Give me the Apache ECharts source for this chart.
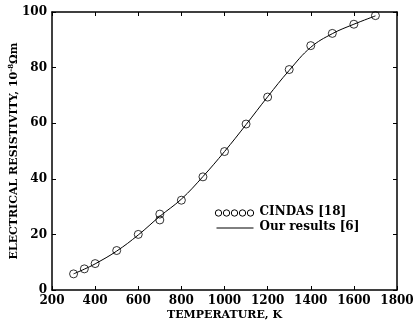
<!DOCTYPE html>
<html>
<head>
<meta charset="utf-8">
<script src="https://cdn.jsdelivr.net/npm/echarts@6/dist/echarts.min.js"></script>
<style>
  html, body { margin: 0; padding: 0; background: #fff; }
  #chart { width: 414px; height: 323px; }
</style>
</head>
<body>
<div id="chart"></div>
<script>
// CINDAS [18] measured points
const cindasT = [300, 350, 400, 500, 600, 700, 700, 800, 900, 1000, 1100, 1200, 1300, 1400, 1500, 1600, 1700];
const cindasRho = [5.8, 7.6, 9.5, 14.2, 20.0, 27.3, 25.2, 32.3, 40.7, 49.8, 59.7, 69.4, 79.3, 87.9, 92.3, 95.6, 98.7];

// our results [6] (curve)
const curveT = [300, 350, 400, 500, 600, 700, 800, 900, 1000, 1100, 1200, 1300, 1400, 1500, 1600, 1700];
const curveRho = [5.8, 7.5, 9.4, 14.0, 19.8, 26.5, 32.7, 40.8, 49.8, 59.5, 69.5, 79.0, 87.3, 92.2, 95.6, 98.6];

const FONT = 'DejaVu Serif';
const chart = echarts.init(document.getElementById('chart'));

const tickStyle = { show: true, inside: true, length: 4, lineStyle: { color: '#000', width: 1 } };
const labelStyle = { fontFamily: FONT, fontSize: 12, fontWeight: 'bold', color: '#000' };

chart.setOption({
  animation: false,
  grid: { left: 52, right: 17, top: 12, bottom: 33, outerBoundsMode: 'none', containLabel: false },
  xAxis: [{
    type: 'value', min: 200, max: 1800, interval: 200,
    name: 'TEMPERATURE, K', nameLocation: 'middle', nameGap: 20, nameMoveOverlap: false,
    nameTextStyle: { fontFamily: FONT, fontSize: 11, fontWeight: 'bold', color: '#000' },
    axisLine: { show: true, lineStyle: { color: '#000', width: 1.5 } },
    axisTick: tickStyle,
    axisLabel: Object.assign({ margin: 5, formatter: v => String(v) }, labelStyle),
    splitLine: { show: false }
  }, {
    type: 'value', position: 'top', min: 200, max: 1800, interval: 200,
    axisLine: { show: true, onZero: false, lineStyle: { color: '#000', width: 1.5 } },
    axisTick: tickStyle, axisLabel: { show: false }, splitLine: { show: false }
  }],
  yAxis: [{
    type: 'value', min: 0, max: 100, interval: 20,
    name: 'ELECTRICAL RESISTIVITY, 10{sup|-8}Ωm', nameLocation: 'middle', nameGap: 31, nameMoveOverlap: false,
    nameTextStyle: {
      fontFamily: FONT, fontSize: 11, fontWeight: 'bold', color: '#000',
      rich: { sup: { fontFamily: FONT, fontSize: 7, fontWeight: 'bold', color: '#000', verticalAlign: 'top', padding: [0, 0, 6, 0] } }
    },
    axisLine: { show: true, lineStyle: { color: '#000', width: 1.5 } },
    axisTick: tickStyle,
    axisLabel: Object.assign({ margin: 5 }, labelStyle),
    splitLine: { show: false }
  }, {
    type: 'value', position: 'right', min: 0, max: 100, interval: 20,
    axisLine: { show: true, onZero: false, lineStyle: { color: '#000', width: 1.5 } },
    axisTick: tickStyle, axisLabel: { show: false }, splitLine: { show: false }
  }],
  series: [{
    name: 'Our results [6]',
    type: 'line',
    smooth: 0.4,
    showSymbol: false,
    lineStyle: { color: '#000', width: 1 },
    data: curveT.map((t, i) => [t, curveRho[i]]),
    z: 2
  }, {
    name: 'CINDAS [18]',
    type: 'scatter',
    symbol: 'circle',
    symbolSize: 8,
    itemStyle: { color: 'rgba(0,0,0,0)', borderColor: '#000', borderWidth: 1 },
    data: cindasT.map((t, i) => [t, cindasRho[i]]),
    z: 3
  }],
  graphic: [
    {
      type: 'group', left: 214, top: 206,
      children: [0, 1, 2, 3, 4].map(k => ({
        type: 'circle', shape: { cx: 3 + k * 8, cy: 5, r: 3.2 },
        style: { fill: '#fff', stroke: '#000', lineWidth: 1 }
      })).concat([
        { type: 'text', x: 44, y: -2, style: { text: 'CINDAS [18]', font: 'bold 12px "DejaVu Serif"', fill: '#000' } },
        { type: 'line', shape: { x1: 1, y1: 20, x2: 38, y2: 20 }, style: { stroke: '#000', lineWidth: 1 } },
        { type: 'text', x: 44, y: 13, style: { text: 'Our results [6]', font: 'bold 12px "DejaVu Serif"', fill: '#000' } }
      ])
    }
  ]
});
</script>
</body>
</html>
